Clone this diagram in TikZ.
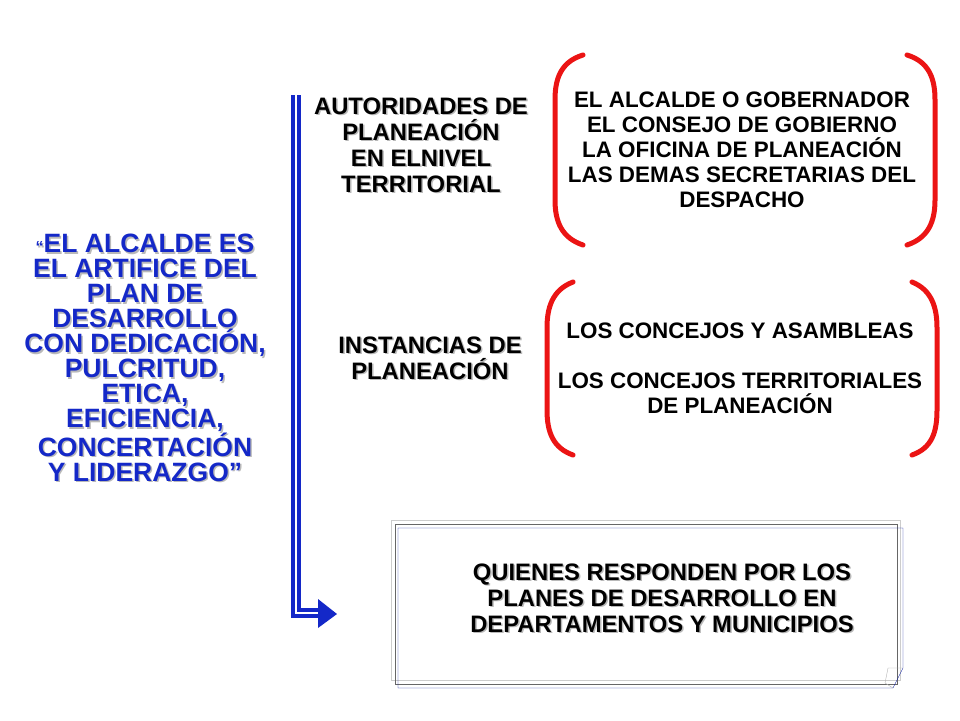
\documentclass[tikz,border=0pt]{standalone}
\usepackage{fontspec}
\setmainfont{Liberation Sans}
\usetikzlibrary{calc}
\definecolor{tblue}{RGB}{20,40,200}
\definecolor{tred}{RGB}{235,20,20}
\tikzset{txt/.style={align=center,font=\bfseries,inner sep=0pt},
 big/.style={font=\bfseries\fontsize{26.5}{25}\selectfont},
 mid/.style={font=\bfseries\fontsize{23.8}{26}\selectfont},
 sml/.style={font=\bfseries\fontsize{22.4}{25}\selectfont},
 brk/.style={tred,line width=5pt,line cap=round}}
\newcommand\stxt[5]{%
 \node[txt,#3,gray!55] (#1s) at ($(#2)+(1.5,1.5)$) {#5};
 \node[txt,#3,#4] (#1) at (#2) {#5};}
\begin{document}
\begin{tikzpicture}[x=1pt,y=-1pt]
\useasboundingbox (0,0) rectangle (960,720);
% left text
\stxt{main}{145,358}{big}{tblue}{{\fontsize{16}{16}\selectfont``}EL ALCALDE ES\\EL ARTIFICE DEL\\PLAN DE\\DESARROLLO\\CON DEDICACIÓN,\\PULCRITUD,\\ETICA,\\EFICIENCIA,\\CONCERTACIÓN\\Y LIDERAZGO''}
% bracket line
\coordinate (top) at (296,95);
\coordinate (bend) at (296,613);
\coordinate (tip) at (318,613);
\draw[tblue,double=white,line width=4pt,double distance=1.2pt] (top) -- (bend) -- (tip);
\fill[tblue] (318,599) -- (337,614) -- (318,628) -- cycle;
% headings
\stxt{aut}{421,145}{mid}{black}{AUTORIDADES DE\\PLANEACIÓN\\EN ELNIVEL\\TERRITORIAL}
\stxt{ins}{430,358}{mid}{black}{INSTANCIAS DE\\PLANEACIÓN}
% lists
\node[txt,sml] (l1) at (742,150) {EL ALCALDE O GOBERNADOR\\EL CONSEJO DE GOBIERNO\\LA OFICINA DE PLANEACIÓN\\LAS DEMAS SECRETARIAS DEL\\DESPACHO};
\node[txt,sml] (l2) at (740,368) {LOS CONCEJOS Y ASAMBLEAS\\[25pt]LOS CONCEJOS TERRITORIALES\\DE PLANEACIÓN};
% red brackets
\draw[brk] (583,55) .. controls (560,62) and (555,80) .. (555,100) -- (555,200) .. controls (555,222) and (562,238) .. (583,245);
\draw[brk] (907,55) .. controls (930,62) and (935,80) .. (935,100) -- (935,200) .. controls (935,222) and (928,238) .. (907,245);
\draw[brk] (573,282) .. controls (552,290) and (547,308) .. (547,328) -- (547,410) .. controls (547,432) and (553,448) .. (573,455);
\draw[brk] (912,282) .. controls (932,290) and (937,308) .. (937,328) -- (937,410) .. controls (937,432) and (932,448) .. (912,455);
% bottom box
\draw[gray!40] (391,520) -- (900,520) -- (900,680) -- (391,680) -- cycle;
\draw[gray!80!black] (395,524) -- (897,524) -- (897,684) -- (395,684) -- cycle;
\draw[tblue!80!black] (398,528) -- (903,528) -- (903,668) -- (893,688) -- (398,688) -- cycle;
\draw[gray!60] (893,688) -- (885,683) -- (888,668) -- (903,668);
\stxt{q}{662,598}{mid}{black}{QUIENES RESPONDEN POR LOS\\PLANES DE DESARROLLO EN\\DEPARTAMENTOS Y MUNICIPIOS}
\end{tikzpicture}
\end{document}
